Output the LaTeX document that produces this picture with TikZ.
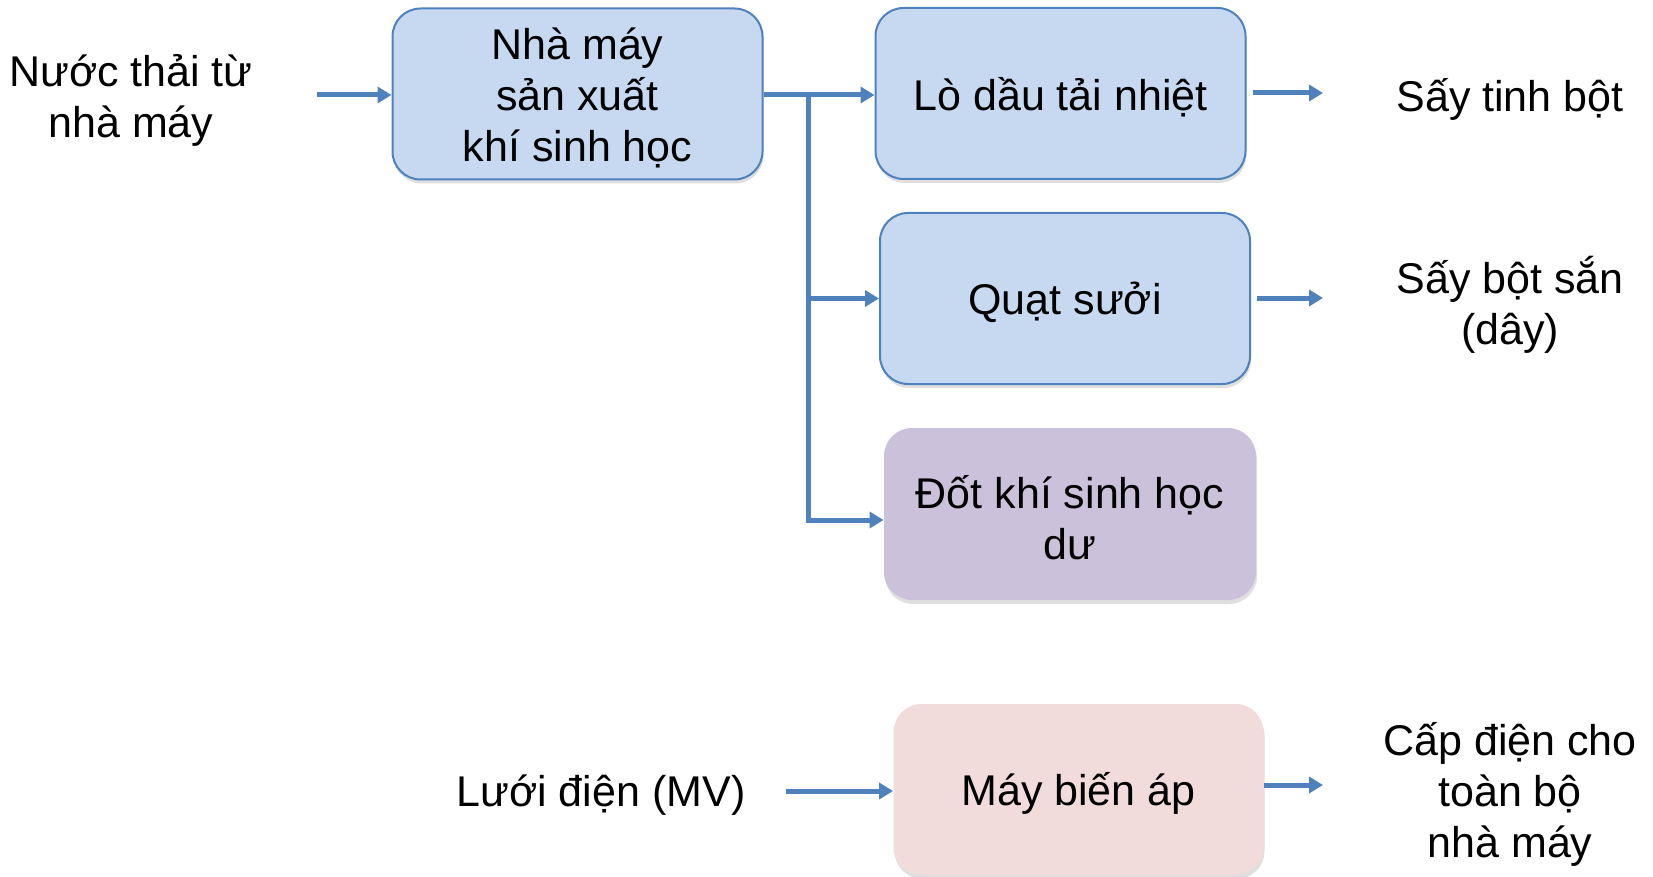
\documentclass[tikz,border=0pt]{standalone}
\usepackage{fontspec}
\setmainfont{Liberation Sans}
\usetikzlibrary{arrows.meta,shadows,positioning}
\definecolor{boxblue}{HTML}{C6D9F1}
\definecolor{edgeblue}{HTML}{4F81BD}
\definecolor{boxpurple}{HTML}{CCC1DA}
\definecolor{boxpink}{HTML}{F2DCDB}
\tikzset{
  every node/.style={font=\fontsize{21.5}{25.5}\selectfont, align=center, inner sep=0pt},
  card/.style={rounded corners=14pt, minimum width=185pt, minimum height=85.5pt,
    drop shadow={shadow xshift=0.5pt, shadow yshift=-2pt, opacity=0.25}},
  bluecard/.style={card, fill=boxblue, draw=edgeblue, line width=1pt},
  purplecard/.style={card, fill=boxpurple},
  pinkcard/.style={card, fill=boxpink},
  flow/.style={draw=edgeblue, line width=2.5pt, -{Triangle[length=7pt,width=8pt]}},
  bar/.style={draw=edgeblue, line width=2.5pt},
  lbl/.style={text=black},
  boxtext/.style={text=black, yshift=-1.85pt}
}
\begin{document}
\begin{tikzpicture}[x=0.5pt,y=-0.5pt]
\useasboundingbox (0,0) rectangle (1653,877);
% boxes
\node[bluecard] (b1) at (577.5,94) {};
\node[bluecard] (b2) at (1060.5,93.5) {};
\node[bluecard] (b3) at (1065,298.5) {};
\node[purplecard, minimum height=86pt, minimum width=186pt] (b4) at (1070,514) {};
\node[pinkcard] (b5) at (1078.5,789.5) {};
% box texts
\node[boxtext] (t1) at (b1.center) {Nhà máy\\sản xuất\\khí sinh học};
\node[boxtext] (t2) at (b2.center) {Lò dầu tải nhiệt};
\node[boxtext] (t3) at (b3.center) {Quạt sưởi};
\node[boxtext] (t4) at (b4.center) {Đốt khí sinh học\\dư};
\node[boxtext] (t5) at (b5.center) {Máy biến áp};
% free labels
\node[lbl] (in1) at (131,100.7) {Nước thải từ\\nhà máy};
\node[lbl] (o1) at (1510,99.7) {Sấy tinh bột};
\node[lbl] (o2) at (1510,304.7) {Sấy bột sắn\\(dây)};
\node[lbl] (grid) at (601,794.7) {Lưới điện (MV)};
\node[lbl] (o3) at (1510,794.7) {Cấp điện cho\\toàn bộ\\nhà máy};
% connector ends
\coordinate (s1) at (317,95);
\coordinate (j) at (808,95);
\coordinate (j3) at (808,298.5);
\coordinate (j4) at (808,520);
\coordinate (e1) at (1323,93);
\coordinate (e2) at (1323,298);
\coordinate (s5) at (786,791);
\coordinate (e5) at (1323,785);
% connectors
\draw[flow] (s1) -- (s1 -| b1.west);
\draw[bar] (b1.east |- j) -- (j);
\draw[flow] (j) -- (j -| b2.west);
\draw[bar, line cap=rect] (j) -- (j4);
\draw[flow] (j3) -- (j3 -| b3.west);
\draw[flow] (j4) -- (j4 -| b4.west);
\draw[flow] ([xshift=3pt]b2.east |- e1) -- (e1);
\draw[flow] ([xshift=3pt]b3.east |- e2) -- (e2);
\draw[flow] (s5) -- (s5 -| b5.west);
\draw[flow] (b5.east |- e5) -- (e5);
\end{tikzpicture}
\end{document}
